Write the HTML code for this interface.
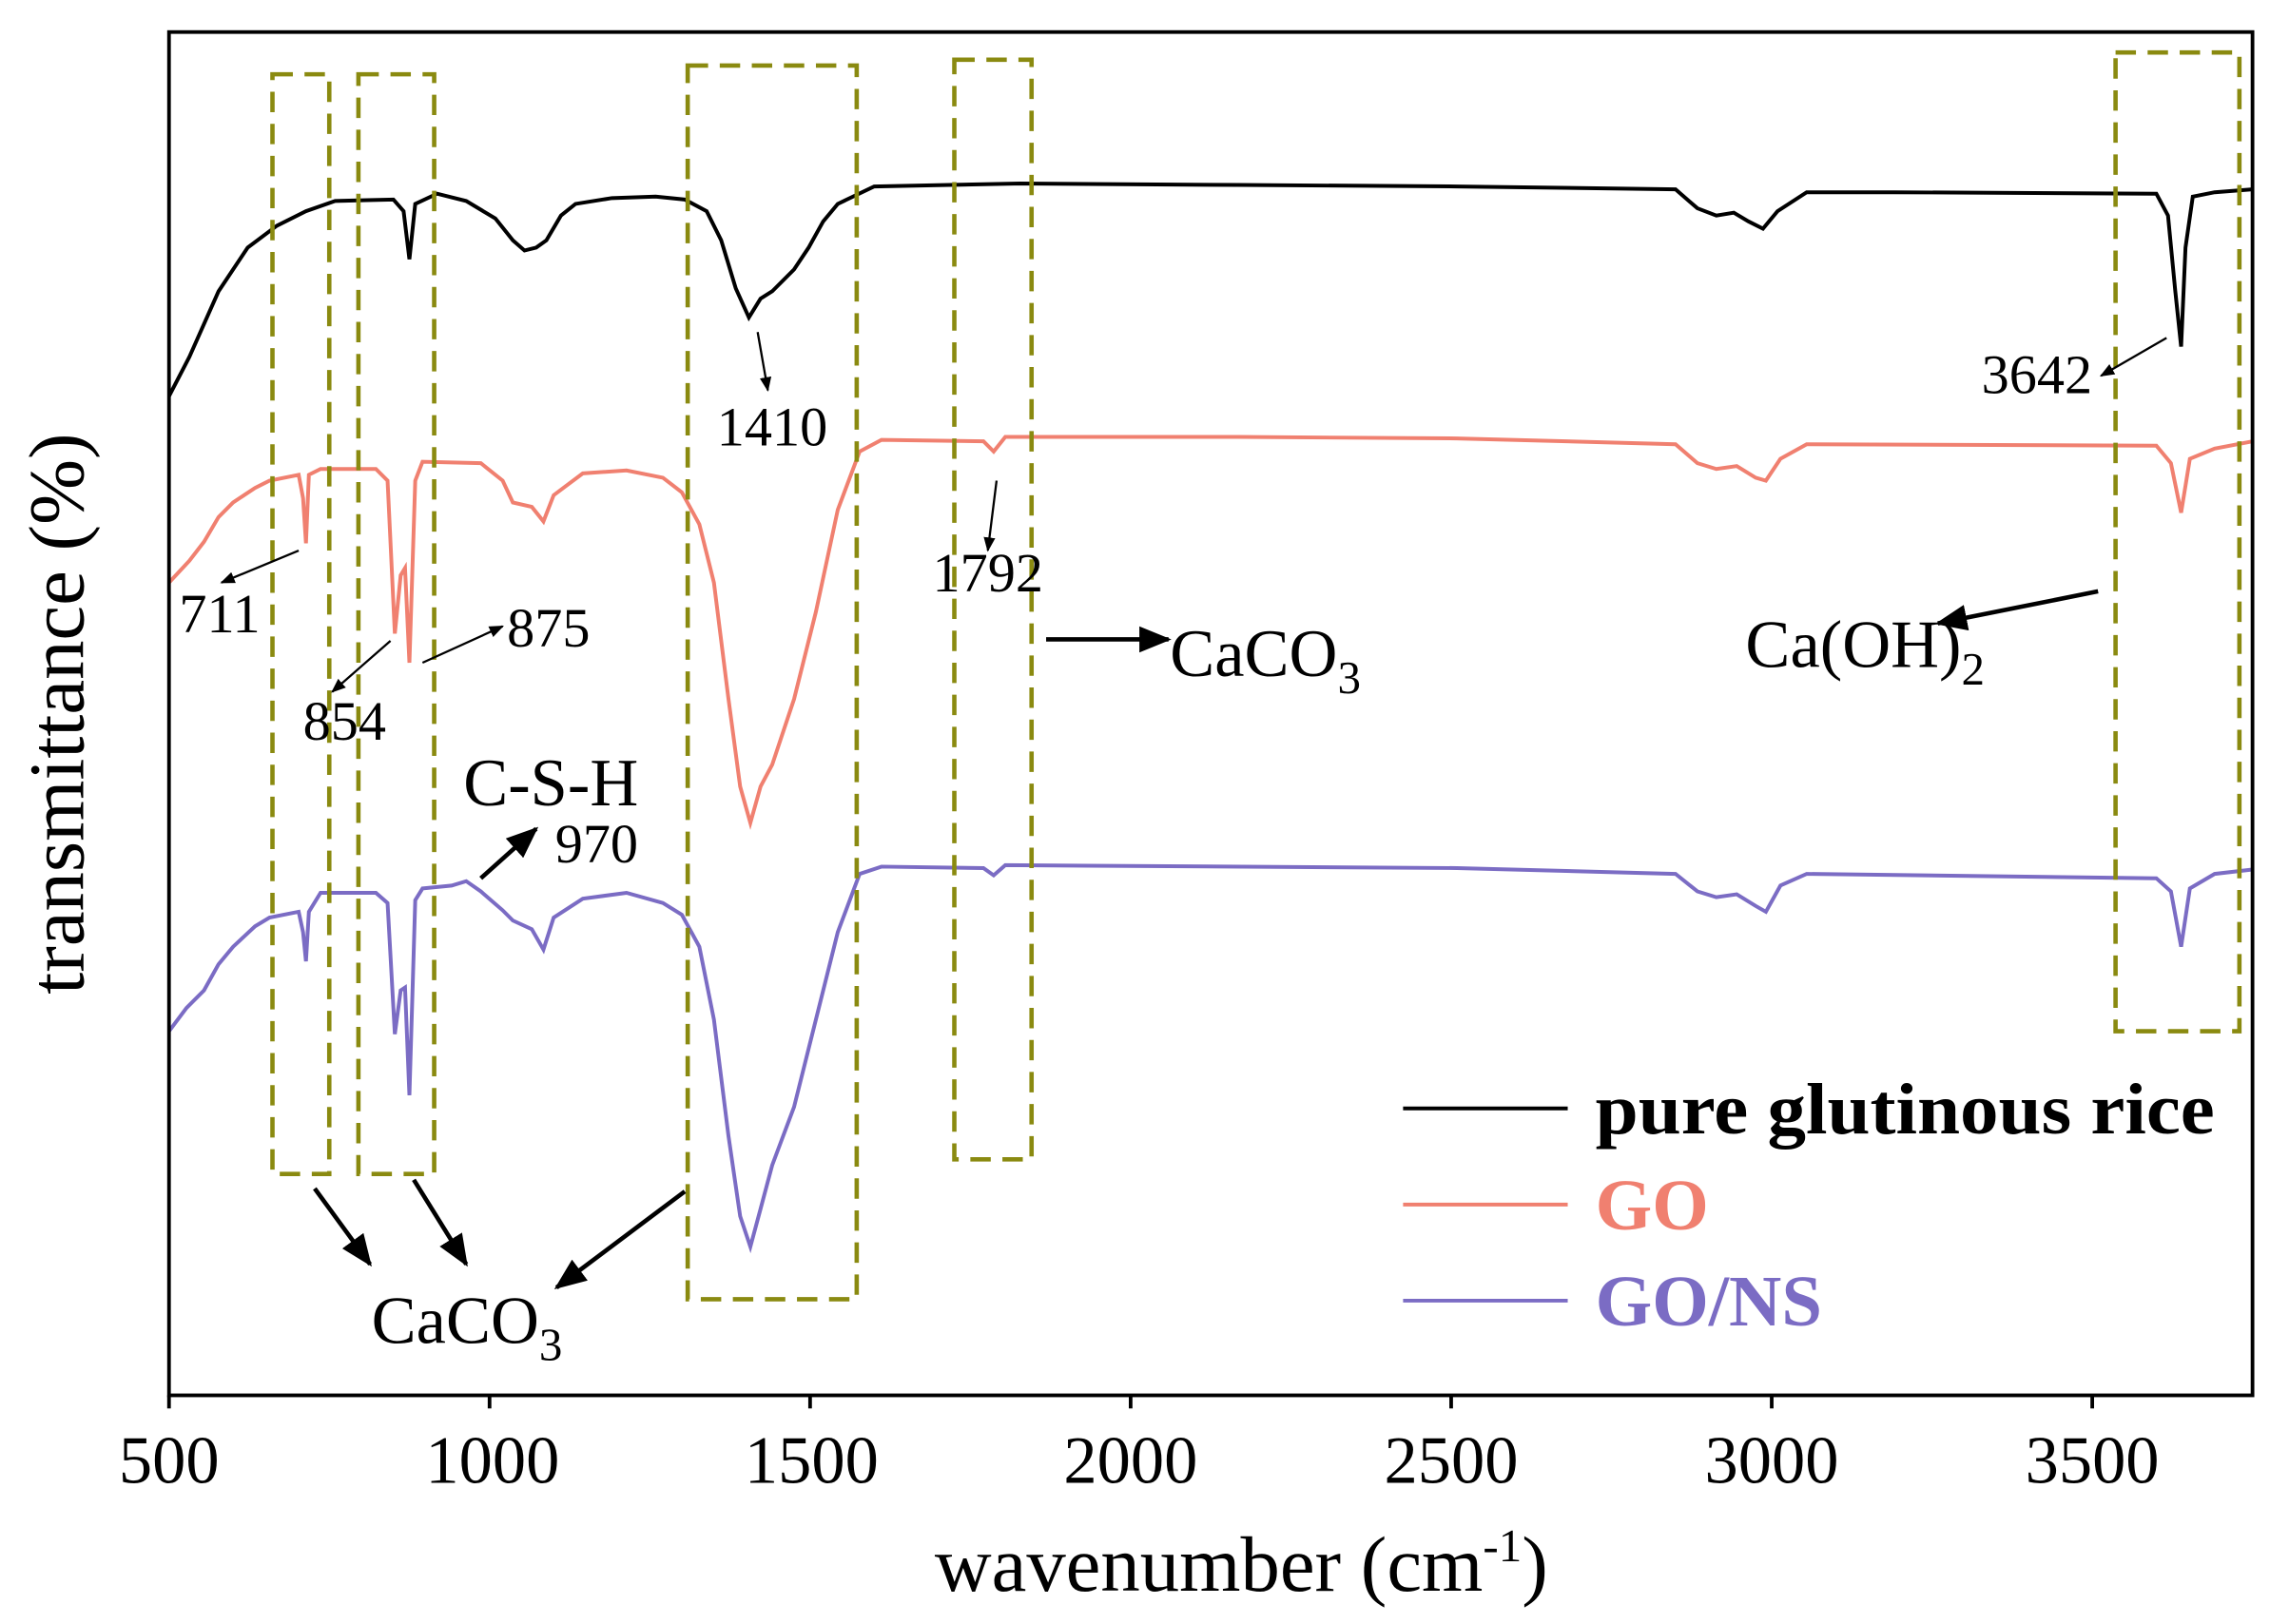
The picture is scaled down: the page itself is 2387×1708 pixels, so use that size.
<!DOCTYPE html>
<html><head><meta charset="utf-8"><style>
html,body{margin:0;padding:0;background:#fff;}
svg{display:block;}
text{font-family:"Liberation Serif",serif;}
</style></head><body>
<svg width="2387" height="1708" viewBox="0 0 1558 1115" preserveAspectRatio="none" xmlns="http://www.w3.org/2000/svg">
<defs>
<marker id="ah" markerWidth="10" markerHeight="10" refX="9" refY="5" orient="auto" markerUnits="userSpaceOnUse">
<path d="M0,1 L10,5 L0,9 z" fill="#000"/></marker>
<marker id="ahb" markerWidth="22" markerHeight="18" refX="20" refY="9" orient="auto" markerUnits="userSpaceOnUse">
<path d="M0,0 L22,9 L0,18 z" fill="#000"/></marker>
</defs>
<rect x="0" y="0" width="1558" height="1115" fill="#fff"/>
<polyline fill="none" stroke="#000" stroke-width="2.6" points="116,272 130,245 150,200 170,170 190,155 210,145 230,138 270,137 277,145 281,178 285,140 300,133 320,138 340,150 352,165 360,172 368,170 375,165 385,148 395,140 420,136 450,135 470,137 485,145 495,165 505,198 514,218 522,205 530,200 545,185 555,170 565,152 575,140 600,128 700,126 850,127 1000,128 1150,130 1165,143 1178,148 1190,146 1200,152 1210,157 1220,145 1240,132 1300,132 1480,133 1488,148 1493,200 1497,238 1500,170 1505,135 1520,132 1546,130"/>
<polyline fill="none" stroke="#f08070" stroke-width="2.6" points="116,400 130,385 140,372 150,355 160,345 175,335 185,330 200,327 205,326 208,342 210,373 212,326 220,322 258,322 266,330 271,435 275,395 278,390 281,455 285,330 290,317 330,318 345,330 352,345 365,348 373,358 380,340 400,325 430,323 455,328 468,338 480,360 490,400 500,480 508,540 515,565 522,540 530,525 545,480 560,420 575,350 590,310 605,302 675,303 682,310 690,300 850,300 1000,301 1150,305 1165,318 1178,322 1192,320 1205,328 1212,330 1222,315 1240,305 1480,306 1490,318 1497,352 1503,315 1520,308 1546,303"/>
<polyline fill="none" stroke="#7b6cc4" stroke-width="2.6" points="116,708 128,692 140,680 150,662 160,650 175,636 185,630 200,627 205,626 208,640 210,660 212,626 220,613 258,613 266,620 271,710 275,680 278,678 281,752 285,618 290,610 310,608 320,605 330,612 345,625 352,632 365,638 373,652 380,630 400,617 430,613 455,620 468,628 480,650 490,700 500,780 508,835 515,856 522,830 530,800 545,760 560,700 575,640 590,600 605,595 675,596 682,601 690,594 1000,596 1150,600 1165,612 1178,616 1192,614 1205,622 1212,626 1222,608 1240,600 1480,603 1490,612 1497,650 1503,610 1520,600 1546,597"/>
<g fill="none" stroke="#8a8a10" stroke-width="3" stroke-dasharray="14,8">
<rect x="187" y="51" width="39" height="755"/>
<rect x="246" y="51" width="52" height="755"/>
<rect x="472" y="45" width="116" height="847"/>
<rect x="655" y="41" width="53" height="755"/>
<rect x="1452" y="36" width="85" height="672"/>
</g>
<rect x="116" y="22" width="1430" height="936" fill="none" stroke="#000" stroke-width="2.5"/>
<g stroke="#000" stroke-width="2.5">
<line x1="116" y1="958" x2="116" y2="967"/><line x1="336" y1="958" x2="336" y2="967"/><line x1="556" y1="958" x2="556" y2="967"/><line x1="776" y1="958" x2="776" y2="967"/><line x1="996" y1="958" x2="996" y2="967"/><line x1="1216" y1="958" x2="1216" y2="967"/><line x1="1436" y1="958" x2="1436" y2="967"/>
</g>
<g font-size="46" text-anchor="middle">
<text x="116" y="1018">500</text><text x="338" y="1018">1000</text><text x="557" y="1018">1500</text><text x="776" y="1018">2000</text><text x="996" y="1018">2500</text><text x="1216" y="1018">3000</text><text x="1436" y="1018">3500</text>
</g>
<text x="852" y="1092" font-size="54" text-anchor="middle">wavenumber (cm<tspan dy="-20" font-size="32">-1</tspan><tspan dy="20">)</tspan></text>
<text transform="translate(57,490) rotate(-90)" font-size="54" text-anchor="middle">transmittance (%)</text>
<g font-size="38">
<text x="492" y="306">1410</text>
<text x="1360" y="270">3642</text>
<text x="123" y="434">711</text>
<text x="348" y="444">875</text>
<text x="208" y="508">854</text>
<text x="640" y="406">1792</text>
<text x="381" y="592">970</text>
</g>
<g font-size="46">
<text x="803" y="464">CaCO<tspan dy="12" font-size="32">3</tspan></text>
<text x="1198" y="458">Ca(OH)<tspan dy="12" font-size="32">2</tspan></text>
<text x="318" y="553">C-S-H</text>
<text x="255" y="922">CaCO<tspan dy="12" font-size="32">3</tspan></text>
</g>
<g stroke="#000" stroke-width="1.5" fill="none">
<line x1="520" y1="228" x2="527" y2="268" marker-end="url(#ah)"/>
<line x1="1487" y1="232" x2="1442" y2="258" marker-end="url(#ah)"/>
<line x1="205" y1="378" x2="152" y2="400" marker-end="url(#ah)"/>
<line x1="290" y1="455" x2="345" y2="430" marker-end="url(#ah)"/>
<line x1="268" y1="440" x2="228" y2="475" marker-end="url(#ah)"/>
<line x1="684" y1="330" x2="678" y2="378" marker-end="url(#ah)"/>
</g>
<g stroke="#000" stroke-width="3" fill="none">
<line x1="718" y1="439" x2="802" y2="439" marker-end="url(#ahb)"/>
<line x1="1440" y1="406" x2="1330" y2="428" marker-end="url(#ahb)"/>
<line x1="330" y1="603" x2="368" y2="569" marker-end="url(#ahb)"/>
<line x1="216" y1="816" x2="254" y2="868" marker-end="url(#ahb)"/>
<line x1="284" y1="810" x2="320" y2="868" marker-end="url(#ahb)"/>
<line x1="470" y1="818" x2="382" y2="884" marker-end="url(#ahb)"/>
</g>
<line x1="963" y1="761" x2="1076" y2="761" stroke="#000" stroke-width="2.6"/>
<line x1="963" y1="827" x2="1076" y2="827" stroke="#f08070" stroke-width="2.6"/>
<line x1="963" y1="893" x2="1076" y2="893" stroke="#7b6cc4" stroke-width="2.6"/>
<g font-size="50" font-weight="bold">
<text x="1095" y="778" fill="#000" textLength="425" lengthAdjust="spacingAndGlyphs">pure glutinous rice</text>
<text x="1095" y="844" fill="#f08070">GO</text>
<text x="1095" y="910" fill="#7b6cc4">GO/NS</text>
</g>
</svg>
</body></html>
